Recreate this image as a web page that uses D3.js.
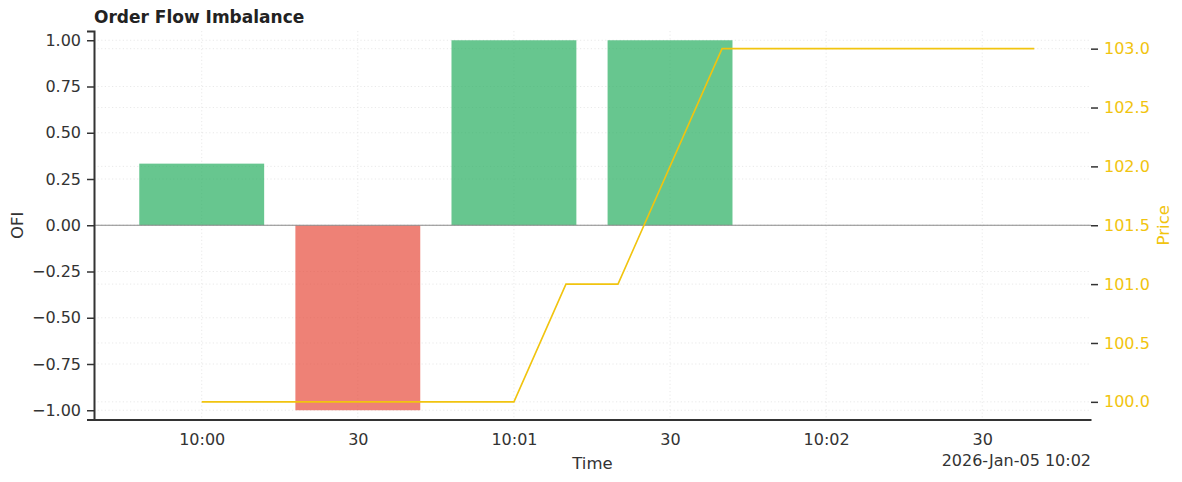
<!DOCTYPE html>
<html>
<head>
<meta charset="utf-8">
<script src="https://cdn.jsdelivr.net/npm/d3@7"></script>
<style>
  body { margin: 0; background: #fff; }
  svg { font-family: "DejaVu Sans", sans-serif; }
</style>
</head>
<body>
<div id="chart"></div>
<script>
// bars: one per 30 s bucket
const barTimes = ["10:00:00", "10:00:30", "10:01:00", "10:01:30"];
const ofiValues = [0.333, -1, 1, 1];

// price samples, every 10 s
const priceTimes = ["10:00:00", "10:00:10", "10:00:20", "10:00:30", "10:00:40", "10:00:50",
  "10:01:00", "10:01:10", "10:01:20", "10:01:30", "10:01:40", "10:01:50",
  "10:02:00", "10:02:10", "10:02:20", "10:02:30", "10:02:40"];
const priceValues = [100, 100, 100, 100, 100, 100, 100, 101, 101, 102, 103, 103, 103, 103, 103, 103, 103];

const ofiTicks = [-1, -0.75, -0.5, -0.25, 0, 0.25, 0.5, 0.75, 1];
const priceTicks = [100, 100.5, 101, 101.5, 102, 102.5, 103];
const timeTicks = ["10:00:00", "10:00:30", "10:01:00", "10:01:30", "10:02:00", "10:02:30"];

const parse = t => new Date(`2026-01-05T${t}`);
const width = 1182, height = 482;
const margin = { top: 31, right: 91, bottom: 62.5, left: 94 };
const w = width - margin.left - margin.right;
const h = height - margin.top - margin.bottom;

const t0 = parse("10:00:00");
const x = d3.scaleTime()
  .domain([new Date(+t0 - 20.7 * 1000), new Date(+t0 + 170.9 * 1000)])
  .range([0, w]);
const y = d3.scaleLinear().domain([-1.05, 1.05]).range([h, 0]);
const y2 = d3.scaleLinear().domain([99.85, 103.15]).range([h, 0]);

const green = "#27ae60", red = "#e74c3c", gold = "#f1c40f", ink = "#333";

const svg = d3.select("#chart").append("svg")
  .attr("width", width).attr("height", height);
const g = svg.append("g").attr("transform", `translate(${margin.left},${margin.top})`);

// grid
const grid = g.append("g").attr("stroke", "#e3e3e3").attr("stroke-width", 0.8)
  .attr("stroke-dasharray", "1.2,2.4");
grid.selectAll(".gy").data(ofiTicks).join("line")
  .attr("x1", 0).attr("x2", w).attr("y1", d => y(d)).attr("y2", d => y(d));
grid.selectAll(".gy2").data(priceTicks).join("line")
  .attr("x1", 0).attr("x2", w).attr("y1", d => y2(d)).attr("y2", d => y2(d));
grid.selectAll(".gx").data(timeTicks).join("line")
  .attr("y1", 0).attr("y2", h).attr("x1", d => x(parse(d))).attr("x2", d => x(parse(d)));

// bars, 24 s wide
const halfW = 12 * 1000;
g.selectAll("rect.bar").data(barTimes.map((t, i) => ({ t: parse(t), v: ofiValues[i] })))
  .join("rect")
  .attr("class", "bar")
  .attr("x", d => x(new Date(+d.t - halfW)))
  .attr("width", d => x(new Date(+d.t + halfW)) - x(new Date(+d.t - halfW)))
  .attr("y", d => y(Math.max(0, d.v)))
  .attr("height", d => Math.abs(y(d.v) - y(0)))
  .attr("fill", d => d.v >= 0 ? green : red)
  .attr("fill-opacity", 0.7);

// zero line
g.append("line").attr("x1", 0).attr("x2", w).attr("y1", y(0)).attr("y2", y(0))
  .attr("stroke", "#8a8a8a").attr("stroke-width", 1);

// price line
const line = d3.line().x(d => x(d.t)).y(d => y2(d.v));
g.append("path")
  .datum(priceTimes.map((t, i) => ({ t: parse(t), v: priceValues[i] })))
  .attr("d", line).attr("fill", "none").attr("stroke", gold).attr("stroke-width", 1.6);

// axes
const styleAxis = (sel, color) => {
  sel.attr("font-family", "DejaVu Sans").attr("font-size", 16);
  sel.selectAll("text").attr("fill", color);
  sel.selectAll(".tick line").attr("stroke", ink).attr("stroke-width", 1.5);
};

const yAxis = g.append("g")
  .call(d3.axisLeft(y).tickValues(ofiTicks).tickSize(7).tickPadding(6)
    .tickFormat(d => d3.format(".2f")(d).replace("-", "\u2212")));
yAxis.select(".domain").attr("stroke", ink).attr("stroke-width", 2);
styleAxis(yAxis, ink);

const y2Axis = g.append("g").attr("transform", `translate(${w},0)`)
  .call(d3.axisRight(y2).tickValues(priceTicks).tickSize(7).tickPadding(6).tickFormat(d3.format(".1f")));
y2Axis.select(".domain").remove();
styleAxis(y2Axis, gold);

const xAxis = g.append("g").attr("transform", `translate(0,${h})`)
  .call(d3.axisBottom(x).tickValues(timeTicks.map(parse)).tickSize(0).tickPadding(14)
    .tickFormat(d => d.getSeconds() === 0 ? d3.timeFormat("%H:%M")(d) : d3.timeFormat("%S")(d)));
xAxis.select(".domain").attr("stroke", ink).attr("stroke-width", 2);
styleAxis(xAxis, ink);

// labels
svg.append("text").attr("x", margin.left).attr("y", 23)
  .attr("font-weight", "bold").attr("font-size", 17).attr("fill", "#222")
  .text("Order Flow Imbalance");
svg.append("text").attr("transform", `translate(23,${margin.top + h / 2}) rotate(-90)`)
  .attr("text-anchor", "middle").attr("font-size", 16.5).attr("fill", ink).text("OFI");
svg.append("text").attr("transform", `translate(1169,${margin.top + h / 2}) rotate(-90)`)
  .attr("text-anchor", "middle").attr("font-size", 16.5).attr("fill", gold).text("Price");
svg.append("text").attr("x", margin.left + w / 2).attr("y", 469)
  .attr("text-anchor", "middle").attr("font-size", 16.5).attr("fill", ink).text("Time");
svg.append("text").attr("x", margin.left + w).attr("y", 466)
  .attr("text-anchor", "end").attr("font-size", 16).attr("fill", ink).text("2026-Jan-05 10:02");
</script>
</body>
</html>
